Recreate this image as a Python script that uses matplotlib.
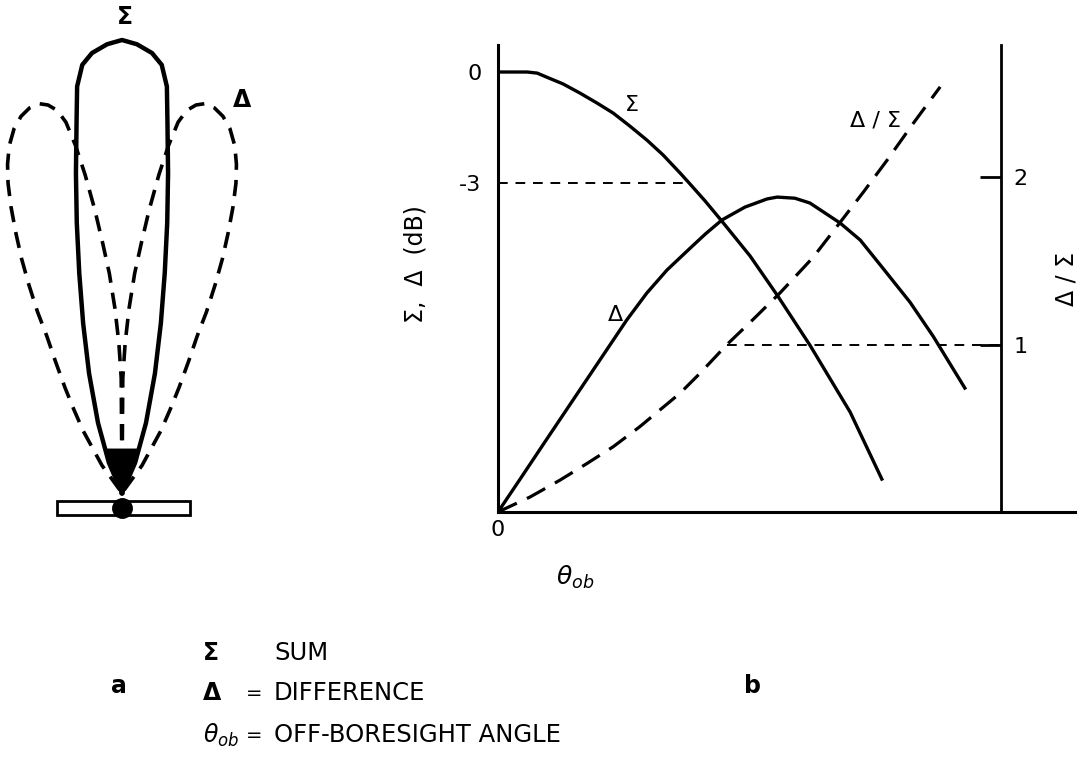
import numpy as np
import matplotlib
matplotlib.use("Agg")
import matplotlib.pyplot as plt
from matplotlib.patches import Rectangle

# antenna patterns for sketch (a): half pattern, angle off axis in degrees vs lobe radius
phi_sum = [0, 1.9, 3.9, 5.3, 6.3, 7.0, 8.2, 9.5, 11, 12.9, 15.4, 18.9, 23.4, 25]
r_sum = [453, 449, 441, 430, 409, 373, 323, 274, 224, 174, 124, 74, 33, 0]

phi_diff = [0, 0.4, 1.2, 2.2, 3.3, 4.4, 5.5, 6.6, 7.6, 8.6, 9.6, 10.8, 12, 13.5, 15, 16.5,
            18, 19.2, 20.2, 21.2, 22.2, 23.2, 24.1, 25, 25.6, 26.8, 28.4, 30, 32, 36, 40]
r_diff = [0, 115, 150, 185, 220, 250, 285, 320, 350, 375, 388, 395, 398, 396, 390, 380,
          365, 348, 330, 307, 281, 255, 228, 200, 174, 148, 120, 96, 73, 34, 0]

# curves for plot (b): off-boresight angle (arbitrary units) vs level
theta_sum = [0, 0.058, 0.078, 0.097, 0.129, 0.163, 0.197, 0.229, 0.262, 0.296, 0.328,
             0.362, 0.380, 0.412, 0.445, 0.501, 0.555, 0.620, 0.700, 0.763]
sum_db = [0, 0, -0.03, -0.14, -0.32, -0.57, -0.84, -1.11, -1.46, -1.84, -2.24,
          -2.73, -3.0, -3.49, -4.03, -4.97, -6.03, -7.38, -9.19, -11.0]

theta_diff = [0, 0.044, 0.097, 0.137, 0.177, 0.217, 0.256, 0.296, 0.336, 0.382, 0.412, 0.445,
              0.491, 0.535, 0.555, 0.590, 0.620, 0.680, 0.720, 0.765, 0.819, 0.865, 0.928]
diff_db = [-11.89, -11.0, -9.92, -9.11, -8.30, -7.49, -6.70, -5.97, -5.35, -4.76, -4.38, -4.0,
           -3.65, -3.43, -3.38, -3.41, -3.54, -4.08, -4.54, -5.30, -6.22, -7.14, -8.54]

theta_ratio = [0, 0.064, 0.123, 0.177, 0.229, 0.282, 0.322, 0.362, 0.402, 0.455,
               0.507, 0.561, 0.626, 0.680, 0.726, 0.773, 0.825, 0.879]
ratio = [0, 0.09, 0.19, 0.29, 0.39, 0.51, 0.61, 0.71, 0.83, 1.0,
         1.15, 1.31, 1.52, 1.73, 1.91, 2.10, 2.32, 2.54]

half_power_db = -3
half_power_theta = 0.380
unit_ratio = 1.0
unit_ratio_theta = 0.455

W, H = 1083, 764
fig = plt.figure(figsize=(W / 100, H / 100), dpi=100)
fs = 16

# ---- (a) beam sketch ----
axa = fig.add_axes([0, 1 - 520 / H, 250 / W, 510 / H])
axa.set_xlim(-122, 128)
axa.set_ylim(-27, 483)
axa.axis("off")

def to_xy(phi, r):
    p = np.radians(np.asarray(phi, dtype=float))
    r = np.asarray(r, dtype=float)
    return r * np.sin(p), r * np.cos(p)

# sum beam is symmetric about boresight
phi_full = np.concatenate([-np.array(phi_sum[::-1]), np.array(phi_sum[1:])])
r_full = np.concatenate([np.array(r_sum[::-1]), np.array(r_sum[1:])])
xs, ys = to_xy(phi_full, r_full)
axa.plot(xs, ys, color="black", lw=3.2, solid_joinstyle="round")

# difference beam: two lobes either side
for side in (-1, 1):
    xd, yd = to_xy(side * np.array(phi_diff), r_diff)
    axa.plot(xd, yd, color="black", lw=2.6, ls=(0, (4.5, 2.8)))

axa.annotate("", xy=(0, 0), xytext=(0, 42),
             arrowprops=dict(arrowstyle="-|>,head_length=1.2,head_width=0.5",
                             mutation_scale=22, color="black", lw=2))
axa.add_patch(Rectangle((-65, -22), 133, 14, facecolor="white", edgecolor="black", lw=2))
axa.plot(0, -15, "o", ms=14, color="black")
axa.text(3, 476, "Σ", ha="center", va="center", fontsize=17, fontweight="bold")
axa.text(120, 393, "Δ", ha="center", va="center", fontsize=17, fontweight="bold")

# ---- (b) sum / difference vs off-boresight angle ----
ax = fig.add_axes([498 / W, 1 - 512 / H, 577 / W, 467 / H])
ax.plot(theta_sum, sum_db, color="black", lw=2.4)
ax.plot(theta_diff, diff_db, color="black", lw=2.4)
ax.hlines(half_power_db, 0, half_power_theta, colors="black", lw=1.4, linestyles=(0, (5, 4)))
ax.set_xlim(0, 1.147)
ax.set_ylim(-11.89, 0.73)

ax2 = ax.twinx()
ax2.plot(theta_ratio, ratio, color="black", lw=2.3, ls=(0, (6.5, 3.5)))
ax2.hlines(unit_ratio, unit_ratio_theta, 1.0, colors="black", lw=1.4, linestyles=(0, (5, 4)))
ax2.set_ylim(0, 2.79)

for a in (ax, ax2):
    a.spines["top"].set_visible(False)
ax2.spines["left"].set_visible(False)
ax2.spines["bottom"].set_visible(False)
ax.spines["right"].set_visible(False)
ax.spines["left"].set_linewidth(2.2)
ax.spines["bottom"].set_linewidth(2.2)
ax2.spines["right"].set_linewidth(2.0)
ax2.spines["right"].set_position(("data", 1.0))

ax.set_yticks([0, -3])
ax.set_yticklabels(["0", "-3"])
ax.tick_params(axis="y", length=0, pad=12, labelsize=fs)
ax.set_xticks([0])
ax.set_xticklabels(["0"])
ax.tick_params(axis="x", length=0, pad=6, labelsize=fs)

ax2.set_yticks([1, 2])
ax2.set_yticklabels(["1", "2"])
ax2.tick_params(axis="y", direction="in", length=15, width=2, pad=9, labelsize=fs)

ax.set_ylabel("Σ,  Δ  (dB)", fontsize=17)
ax.yaxis.set_label_coords(-0.123, 0.53)
ax2.set_ylabel("Δ / Σ", fontsize=17, va="center", ha="center")
ax2.yaxis.set_label_coords(0.985, 0.50)
ax.text(0.133, -0.14, r"$\theta_{ob}$", transform=ax.transAxes, ha="center", va="center", fontsize=18)

ax.text(0.266, -0.89, "Σ", ha="center", va="center", fontsize=fs)
ax.text(0.233, -6.57, "Δ", ha="center", va="center", fontsize=fs)
ax2.text(0.75, 2.34, "Δ / Σ", ha="center", va="center", fontsize=fs)

# panel letters and key
fig.text(119 / W, 1 - 686 / H, "a", ha="center", va="center", fontsize=17, fontweight="bold")
fig.text(752 / W, 1 - 686 / H, "b", ha="center", va="center", fontsize=17, fontweight="bold")

key_sym = ["Σ", "Δ", r"$\theta_{ob}$"]
key_eq = ["", "=", "="]
key_txt = ["SUM", "DIFFERENCE", "OFF-BORESIGHT ANGLE"]
key_y = [653, 693, 735]
for s, e, t, y in zip(key_sym, key_eq, key_txt, key_y):
    fig.text(203 / W, 1 - y / H, s, ha="left", va="center", fontsize=17, fontweight="bold")
    fig.text(254 / W, 1 - y / H, e, ha="center", va="center", fontsize=14)
    fig.text(274 / W, 1 - y / H, t, ha="left", va="center", fontsize=17.5)

fig.savefig("out.png", dpi=100)
